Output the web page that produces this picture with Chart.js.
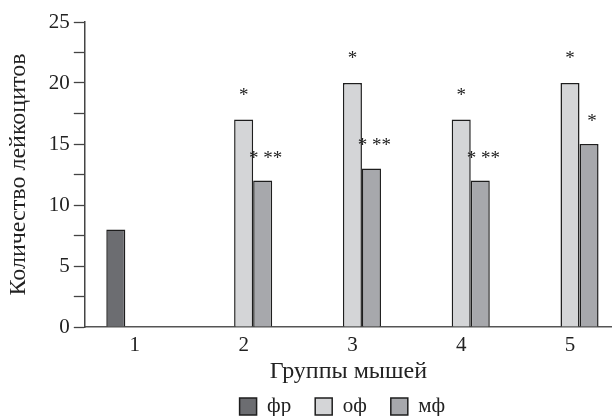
<!DOCTYPE html>
<html>
<head>
<meta charset="utf-8">
<script src="https://cdn.jsdelivr.net/npm/chart.js@4"></script>
<style>
html,body{margin:0;padding:0;background:#fff;overflow:hidden;}
#wrap{width:612px;height:416px;}
</style>
</head>
<body>
<div id="wrap"><canvas id="chart"></canvas></div>
<script>
const groups = [1, 2, 3, 4, 5];
const fr = [8, null, null, null, null];
const of = [null, 17, 20, 17, 20];
const mf = [null, 12, 13, 12, 15];
const ofMarks = ["", "*", "*", "*", "*"];
const mfMarks = ["", "* **", "* **", "* **", "*"];
const yLabels = [0, 5, 10, 15, 20, 25];

const serif = "'Liberation Serif', 'DejaVu Serif', serif";

// asterisks over the bars
const marks = {
  id: "marks",
  afterLayout(chart) {
    // legend sits under the plot, a bit left of its centre
    chart.legend.left = chart.chartArea.left - 12;
  },
  afterDatasetsDraw(chart) {
    const ctx = chart.ctx;
    ctx.save();
    ctx.fillStyle = "#222";
    ctx.font = "19px " + serif;
    ctx.textAlign = "center";
    ctx.textBaseline = "alphabetic";
    [[1, ofMarks, 0, 19], [2, mfMarks, 3, 17]].forEach(([di, list, dx, dy]) => {
      const meta = chart.getDatasetMeta(di);
      meta.data.forEach((bar, i) => {
        if (!list[i]) return;
        ctx.fillText(list[i], bar.x + dx, bar.y - dy);
      });
    });
    ctx.restore();
  }
};

new Chart(document.getElementById("chart"), {
  type: "bar",
  data: {
    labels: groups,
    datasets: [
      { label: "фр", data: fr, backgroundColor: "#6c6d71", borderColor: "#1e1e1e", borderWidth: 1.5 },
      { label: "оф", data: of, backgroundColor: "#d4d5d7", borderColor: "#1e1e1e", borderWidth: 1.5 },
      { label: "мф", data: mf, backgroundColor: "#a7a8ac", borderColor: "#1e1e1e", borderWidth: 1.5 }
    ]
  },
  options: {
    responsive: true,
    maintainAspectRatio: false,
    animation: false,
    categoryPercentage: 0.525,
    barPercentage: 1,
    layout: { padding: { top: 22, right: 0, left: 4, bottom: -11 } },
    plugins: {
      tooltip: { enabled: false },
      legend: {
        position: "bottom",
        labels: {
          color: "#222",
          font: { family: serif, size: 21 },
          boxWidth: 17,
          boxHeight: 17,
          padding: 24
        }
      }
    },
    scales: {
      x: {
        type: "linear",
        offset: false,
        min: 0.54,
        max: 5.386,
        afterBuildTicks(scale) {
          scale.ticks = groups.map(v => ({ value: v }));
        },
        grid: { display: false, offset: false },
        border: { color: "#555", width: 1.5 },
        ticks: { color: "#222", font: { family: serif, size: 21 }, padding: -2 },
        title: {
          display: true,
          text: "Группы мышей",
          color: "#222",
          font: { family: serif, size: 24 },
          padding: { top: 1, bottom: -14 }
        }
      },
      y: {
        min: 0,
        max: 25,
        grid: { drawOnChartArea: false, tickLength: 11, color: "#444", tickWidth: 1.3 },
        border: { color: "#444", width: 1.5 },
        ticks: {
          stepSize: 2.5,
          autoSkip: false,
          padding: 4,
          color: "#222",
          font: { family: serif, size: 21 },
          callback: v => (yLabels.includes(v) ? v : "")
        },
        title: {
          display: true,
          text: "Количество лейкоцитов",
          color: "#222",
          font: { family: serif, size: 24 },
          padding: { top: 0, bottom: 12 }
        }
      }
    }
  },
  plugins: [marks]
});
</script>
</body>
</html>
